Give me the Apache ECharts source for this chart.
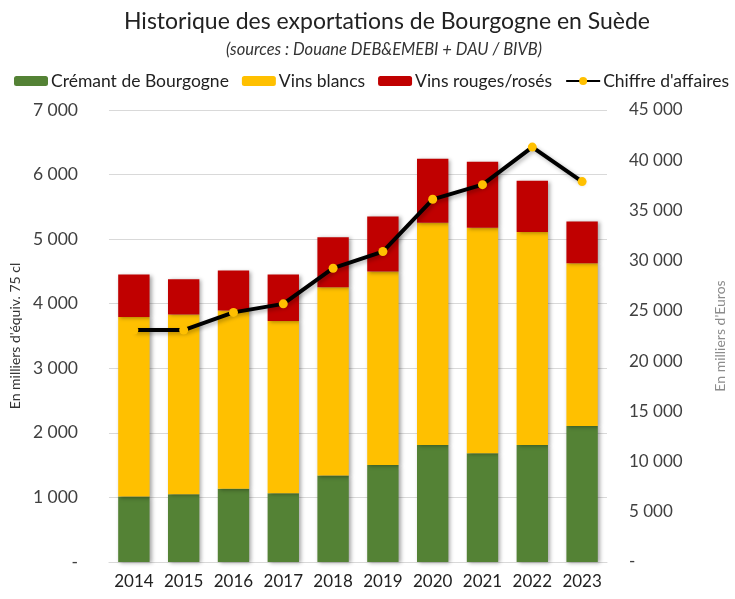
<!DOCTYPE html>
<html>
<head>
<meta charset="utf-8">
<script src="https://cdn.jsdelivr.net/npm/echarts@6/dist/echarts.min.js"></script>
<style>
  html, body { margin: 0; padding: 0; background: #fff; }
  #chart { width: 735px; height: 599px; }
</style>
</head>
<body>
<div id="chart"></div>
<script>
(function(window){

    // années
    var years = ['2014', '2015', '2016', '2017', '2018', '2019', '2020', '2021', '2022', '2023'];
    // volumes en milliers d'équiv. 75 cl
    var cremant = [1014, 1051, 1133, 1066, 1339, 1504, 1813, 1685, 1813, 2107];
    var blancs  = [2782, 2782, 2762, 2668, 2916, 2994, 3442, 3493, 3297, 2519];
    var rouges  = [655, 546, 618, 717, 773, 854, 989, 1020, 794, 649];
    // chiffre d'affaires en milliers d'euros
    var chiffre = [23090, 23090, 24850, 25700, 29250, 30910, 36110, 37570, 41310, 37870];

    var font = 'Lato, "Open Sans", sans-serif';
    var labelColor = '#404040';

    function fmt(v) {
        if (v === 0) return '-';
        return String(v).replace(/\B(?=(\d{3})+(?!\d))/g, ' ');
    }

    function barSeries(name, data, color) {
        return {
            name: name,
            type: 'bar',
            stack: 'vol',
            data: data,
            barCategoryGap: '37%',
            itemStyle: {
                color: color,
                shadowColor: 'rgba(0,0,0,0.35)',
                shadowBlur: 4,
                shadowOffsetX: 2,
                shadowOffsetY: 1
            }
        };
    }

    var chartBox = echarts.init(document.getElementById('chart'));

    var option = {
        animation: false,
        textStyle: { fontFamily: font },
        title: [{
            text: 'Historique des exportations de Bourgogne en Suède',
            left: 382,
            top: 5,
            textAlign: 'center',
            textStyle: { fontFamily: font, fontSize: 23, fontWeight: 'normal', color: '#222' }
        }, {
            text: '(sources : Douane DEB&EMEBI + DAU / BIVB)',
            left: 379,
            top: 36,
            textAlign: 'center',
            textStyle: { fontFamily: font, fontSize: 16.5, fontStyle: 'italic', fontWeight: 'normal', color: '#333' }
        }],
        legend: {
            left: 14,
            top: 72,
            padding: 0,
            itemWidth: 34,
            itemHeight: 10,
            itemGap: 13,
            textStyle: { fontFamily: font, fontSize: 17.5, color: '#222', padding: [0, 0, 0, -2] },
            data: ['Crémant de Bourgogne', 'Vins blancs', 'Vins rouges/rosés', "Chiffre d'affaires"]
        },
        grid: {
            left: 106,
            right: 100,
            top: 110,
            bottom: 37
        },
        xAxis: {
            type: 'category',
            data: years,
            axisTick: { show: false },
            axisLine: { lineStyle: { color: '#d9d9d9' } },
            axisLabel: { interval: 0, fontFamily: font, fontSize: 17, color: '#222', margin: 11 }
        },
        yAxis: [{
            type: 'value',
            min: 0,
            max: 7000,
            interval: 1000,
            name: "En milliers d'équiv. 75 cl",
            nameLocation: 'middle',
            nameRotate: 90,
            nameGap: 83,
            nameTextStyle: { fontFamily: font, fontSize: 14, color: '#333' },
            axisLine: { show: false },
            axisTick: { show: false },
            splitLine: { lineStyle: { color: '#d9d9d9' } },
            axisLabel: { fontFamily: font, fontSize: 17.5, color: labelColor, margin: 31, formatter: fmt }
        }, {
            type: 'value',
            min: 0,
            max: 45000,
            interval: 5000,
            name: "En milliers d'Euros",
            nameLocation: 'middle',
            nameRotate: 90,
            nameGap: 106,
            nameTextStyle: { fontFamily: font, fontSize: 14, color: '#8c8c8c' },
            axisLine: { show: false },
            axisTick: { show: false },
            splitLine: { show: false },
            axisLabel: { fontFamily: font, fontSize: 17, color: labelColor, margin: 22, formatter: fmt }
        }],
        series: [
            barSeries('Crémant de Bourgogne', cremant, '#548235'),
            barSeries('Vins blancs', blancs, '#FFC000'),
            barSeries('Vins rouges/rosés', rouges, '#C00000'),
            {
                name: "Chiffre d'affaires",
                type: 'line',
                yAxisIndex: 1,
                data: chiffre,
                symbol: 'circle',
                symbolSize: 9,
                lineStyle: {
                    color: '#000',
                    width: 4,
                    shadowColor: 'rgba(0,0,0,0.3)',
                    shadowBlur: 4,
                    shadowOffsetX: 2,
                    shadowOffsetY: 2
                },
                itemStyle: { color: '#FFC000', borderWidth: 0 },
                z: 5
            }
        ]
    };

    chartBox.setOption(option);

})(window);
</script>
</body>
</html>
